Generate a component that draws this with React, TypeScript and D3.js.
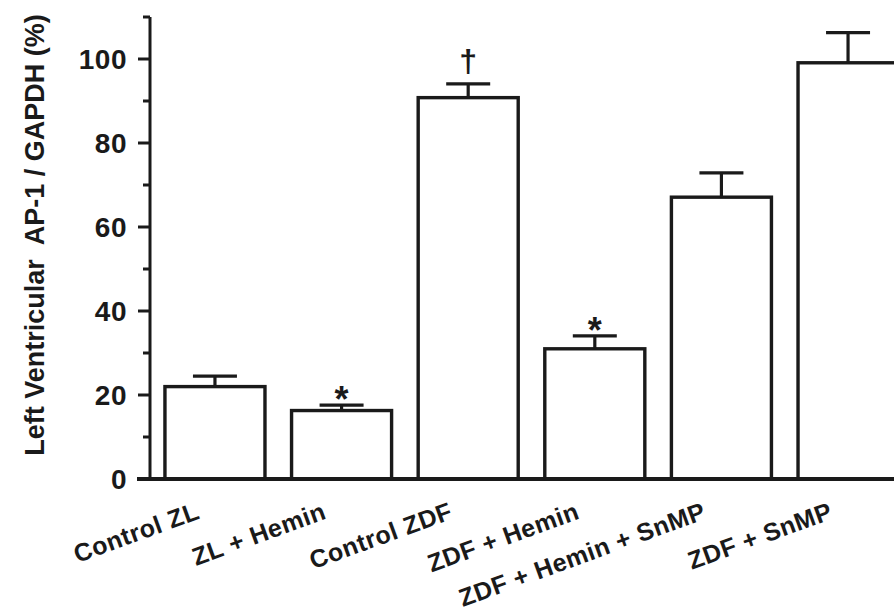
import React from "react";
import * as d3 from "d3";

// values (% of GAPDH)
const groups = [
  "Control ZL",
  "ZL + Hemin",
  "Control ZDF",
  "ZDF + Hemin",
  "ZDF + Hemin + SnMP",
  "ZDF + SnMP",
];
const means = [22, 16.3, 90.8, 31, 67.1, 99.1];
const errors = [2.5, 1.3, 3.3, 3.1, 5.8, 7.2];
const marks = ["", "*", "\u2020", "*", "", ""];
const yTicks = [0, 20, 40, 60, 80, 100];
const yMinorTicks = [10, 30, 50, 70, 90];

const W = 894;
const H = 611;
const FONT = "'Liberation Sans', Arial, Helvetica, sans-serif";

const App = () => {
  const axisX = 150;
  const y = d3.scaleLinear().domain([0, 110]).range([479, 17]);

  const x = d3
    .scaleBand<string>()
    .domain(groups)
    .range([axisX, 913])
    .paddingInner(0.21)
    .paddingOuter(0.118);

  const bw = x.bandwidth();
  const capHalf = 22;

  return (
    <svg
      width={W}
      height={H}
      style={{ position: "absolute", left: 0, top: 0, background: "#fff" }}
      fontFamily={FONT}
    >
      {/* bars */}
      {groups.map((g, i) => (
        <rect
          key={g}
          x={x(g)}
          y={y(means[i])}
          width={bw}
          height={y(0) - y(means[i])}
          fill="#fff"
          stroke="#1a1a1a"
          strokeWidth={3.4}
        />
      ))}

      {/* error bars (upper only) */}
      {groups.map((g, i) => {
        const cx = (x(g) as number) + bw / 2;
        const top = y(means[i] + errors[i]);
        return (
          <g key={"e" + g} stroke="#1a1a1a" strokeWidth={3.2}>
            <line x1={cx} x2={cx} y1={y(means[i])} y2={top} />
            <line x1={cx - capHalf} x2={cx + capHalf} y1={top} y2={top} />
          </g>
        );
      })}

      {/* significance marks */}
      {groups.map((g, i) => {
        if (!marks[i]) return null;
        const cx = (x(g) as number) + bw / 2;
        const top = y(means[i] + errors[i]);
        const isDagger = marks[i] === "\u2020";
        return (
          <text
            key={"m" + g}
            x={cx}
            y={isDagger ? top - 12 : top + 7}
            textAnchor="middle"
            fontSize={isDagger ? 32 : 36}
            fontWeight="bold"
            fill="#1a1a1a"
          >
            {marks[i]}
          </text>
        );
      })}

      {/* x axis line */}
      <line x1={137} x2={W} y1={y(0)} y2={y(0)} stroke="#1a1a1a" strokeWidth={4} />

      {/* y axis */}
      <line x1={axisX} x2={axisX} y1={y(110)} y2={y(0)} stroke="#1a1a1a" strokeWidth={3} />
      {yTicks.map((t) => (
        <g key={"t" + t}>
          <line x1={axisX - 12} x2={axisX} y1={y(t)} y2={y(t)} stroke="#1a1a1a" strokeWidth={3} />
          <text
            x={127}
            y={y(t)}
            dy="0.36em"
            textAnchor="end"
            fontSize={28}
            fontWeight="bold"
            letterSpacing={0.5}
            fill="#1a1a1a"
          >
            {t}
          </text>
        </g>
      ))}
      {yMinorTicks.map((t) => (
        <line
          key={"mt" + t}
          x1={axisX - 7}
          x2={axisX}
          y1={y(t)}
          y2={y(t)}
          stroke="#1a1a1a"
          strokeWidth={3}
        />
      ))}
      <line x1={axisX - 7} x2={axisX} y1={y(110)} y2={y(110)} stroke="#1a1a1a" strokeWidth={3} />

      {/* y title */}
      <text
        transform={`translate(44, 235) rotate(-90)`}
        textAnchor="middle"
        fontSize={27}
        fontWeight="bold"
        fill="#1a1a1a"
        style={{ whiteSpace: "pre" }}
      >
        {"Left Ventricular  AP-1 / GAPDH (%)"}
      </text>

      {/* category labels */}
      {groups.map((g) => {
        const cx = (x(g) as number) + bw / 2;
        return (
          <text
            key={"l" + g}
            transform={`translate(${cx - 14}, 518) rotate(-20)`}
            textAnchor="end"
            fontSize={25}
            fontWeight="bold"
            letterSpacing={0.5}
            fill="#1a1a1a"
          >
            {g}
          </text>
        );
      })}
    </svg>
  );
};

export default App;
